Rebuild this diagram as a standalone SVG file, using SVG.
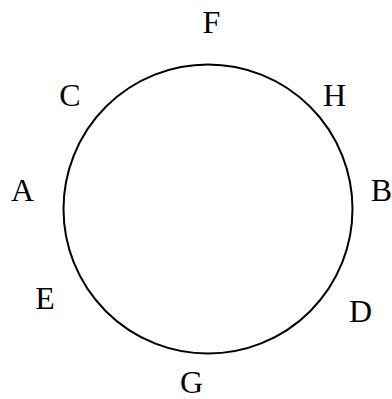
<svg xmlns="http://www.w3.org/2000/svg" width="392" height="399" viewBox="0 0 392 399">
<style>
.lbl{font-family:"Liberation Serif","Times New Roman",serif;font-size:32px;fill:#000;text-anchor:middle}
.ring{fill:#fff;stroke:#000;stroke-width:2}
</style>
<rect width="392" height="399" fill="#fff"/>
<g id="connectors"/>
<g id="circle"><circle class="ring" cx="208" cy="209" r="144.5"/></g>
<g id="F"><text class="lbl" x="211.5" y="32.5">F</text></g>
<g id="C"><text class="lbl" x="70" y="106">C</text></g>
<g id="H"><text class="lbl" x="334.5" y="105.7">H</text></g>
<g id="A"><text class="lbl" x="22.5" y="201">A</text></g>
<g id="B"><text class="lbl" x="381.5" y="200.7">B</text></g>
<g id="E"><text class="lbl" x="45" y="309.3">E</text></g>
<g id="D"><text class="lbl" x="360.5" y="321.7">D</text></g>
<g id="G"><text class="lbl" x="191.5" y="392.5">G</text></g>
</svg>
